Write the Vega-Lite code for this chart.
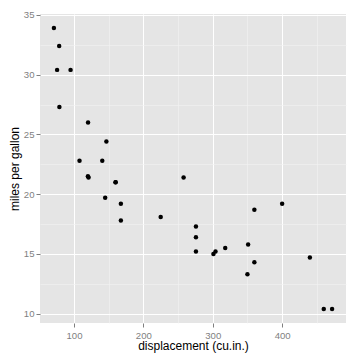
{
  "$schema": "https://vega.github.io/schema/vega-lite/v6.json",
  "width": 306,
  "height": 309,
  "autosize": {"type": "none"},
  "padding": {"left": 40, "top": 14, "right": 14, "bottom": 37},
  "background": "white",
  "config": {
    "view": {"fill": "#E5E5E5", "stroke": null},
    "axis": {
      "domain": false,
      "labelColor": "#7F7F7F",
      "labelFont": "Liberation Sans",
      "labelFontSize": 9.6,
      "tickColor": "#7F7F7F",
      "tickSize": 4,
      "titleFont": "Liberation Sans",
      "titleFontSize": 12,
      "titleFontWeight": "normal",
      "titleColor": "black"
    }
  },
  "data": {
    "values": [
      {"disp": 160, "mpg": 21.0},
      {"disp": 160, "mpg": 21.0},
      {"disp": 108, "mpg": 22.8},
      {"disp": 258, "mpg": 21.4},
      {"disp": 360, "mpg": 18.7},
      {"disp": 225, "mpg": 18.1},
      {"disp": 360, "mpg": 14.3},
      {"disp": 146.7, "mpg": 24.4},
      {"disp": 140.8, "mpg": 22.8},
      {"disp": 167.6, "mpg": 19.2},
      {"disp": 167.6, "mpg": 17.8},
      {"disp": 275.8, "mpg": 16.4},
      {"disp": 275.8, "mpg": 17.3},
      {"disp": 275.8, "mpg": 15.2},
      {"disp": 472, "mpg": 10.4},
      {"disp": 460, "mpg": 10.4},
      {"disp": 440, "mpg": 14.7},
      {"disp": 78.7, "mpg": 32.4},
      {"disp": 75.7, "mpg": 30.4},
      {"disp": 71.1, "mpg": 33.9},
      {"disp": 120.1, "mpg": 21.5},
      {"disp": 318, "mpg": 15.5},
      {"disp": 304, "mpg": 15.2},
      {"disp": 350, "mpg": 13.3},
      {"disp": 400, "mpg": 19.2},
      {"disp": 79, "mpg": 27.3},
      {"disp": 120.3, "mpg": 26.0},
      {"disp": 95.1, "mpg": 30.4},
      {"disp": 351, "mpg": 15.8},
      {"disp": 145, "mpg": 19.7},
      {"disp": 301, "mpg": 15.0},
      {"disp": 121, "mpg": 21.4}
    ]
  },
  "mark": {"type": "point", "filled": true, "shape": "circle", "size": 20, "color": "black", "opacity": 1},
  "encoding": {
    "x": {
      "field": "disp",
      "type": "quantitative",
      "title": "displacement (cu.in.)",
      "scale": {"domain": [51.055, 492.045], "nice": false, "zero": false},
      "axis": {
        "values": [50, 100, 150, 200, 250, 300, 350, 400, 450],
        "labelExpr": "datum.value % 100 === 0 ? datum.label : ''",
        "gridColor": {"condition": {"test": "datum.value % 100 === 0", "value": "#FFFFFF"}, "value": "#F2F2F2"},
        "gridWidth": {"condition": {"test": "datum.value % 100 === 0", "value": 1}, "value": 0.6},
        "tickColor": {"condition": {"test": "datum.value % 100 === 0", "value": "#7F7F7F"}, "value": "transparent"},
        "labelPadding": 3,
        "titlePadding": 1
      }
    },
    "y": {
      "field": "mpg",
      "type": "quantitative",
      "title": "miles per gallon",
      "scale": {"domain": [9.225, 35.075], "nice": false, "zero": false},
      "axis": {
        "values": [10, 12.5, 15, 17.5, 20, 22.5, 25, 27.5, 30, 32.5, 35],
        "labelExpr": "datum.value % 5 === 0 ? datum.label : ''",
        "gridColor": {"condition": {"test": "datum.value % 5 === 0", "value": "#FFFFFF"}, "value": "#F2F2F2"},
        "gridWidth": {"condition": {"test": "datum.value % 5 === 0", "value": 1}, "value": 0.6},
        "tickColor": {"condition": {"test": "datum.value % 5 === 0", "value": "#7F7F7F"}, "value": "transparent"},
        "labelPadding": 2,
        "titlePadding": 2
      }
    }
  }
}
